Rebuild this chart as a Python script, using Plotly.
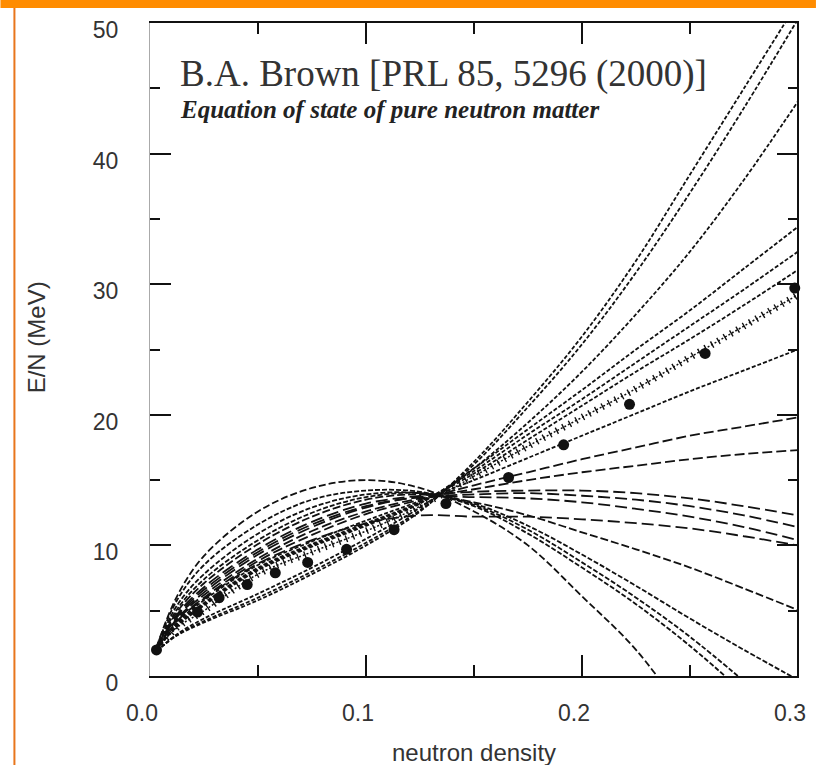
import plotly.graph_objects as go

# ---------------- data ----------------
density = [0.003, 0.0125, 0.025, 0.05, 0.075, 0.1, 0.125, 0.15, 0.175, 0.2, 0.225, 0.25, 0.275, 0.3]

eos_c01 = [1.9, 3.1, 4.1, 5.8, 7.8, 10.0, 12.6, 16.4, 21.0, 26.0, 31.8, 38.4, 45.0, 51.6]
eos_c02 = [1.9, 3.15, 4.2, 6.0, 8.0, 10.2, 12.7, 16.2, 20.6, 25.4, 30.9, 37.0, 43.5, 50.3]
eos_c03 = [1.9, 3.2, 4.4, 6.3, 8.3, 10.5, 12.9, 15.9, 19.4, 23.3, 27.7, 32.5, 38.0, 44.0]
eos_c04 = [2.0, 3.8, 5.4, 8.1, 9.9, 11.5, 13.2, 15.9, 18.9, 21.9, 25.0, 28.0, 31.2, 34.4]
eos_c05 = [2.0, 3.9, 5.5, 8.2, 10.0, 11.6, 13.3, 15.7, 18.5, 21.2, 24.0, 26.8, 29.6, 32.5]
eos_c06 = [2.0, 4.0, 5.6, 8.3, 10.1, 11.7, 13.3, 15.5, 18.1, 20.7, 23.3, 25.8, 28.4, 31.1]
eos_c08 = [2.0, 4.1, 5.8, 8.5, 10.3, 11.9, 13.4, 15.0, 16.7, 18.4, 20.1, 21.8, 23.4, 25.0]
eos_c09 = [2.0, 4.3, 6.0, 8.8, 10.8, 12.4, 13.5, 14.6, 15.6, 16.6, 17.5, 18.4, 19.1, 19.8]
eos_c10 = [2.0, 4.4, 6.2, 9.0, 11.1, 12.6, 13.6, 14.3, 15.0, 15.6, 16.1, 16.6, 17.0, 17.3]
eos_c11 = [2.1, 4.7, 6.8, 9.7, 11.8, 13.2, 13.8, 14.1, 14.2, 14.2, 14.0, 13.6, 13.0, 12.3]
eos_c12 = [2.1, 4.6, 6.6, 9.5, 11.6, 13.0, 13.7, 13.9, 14.0, 13.8, 13.5, 13.0, 12.3, 11.4]
eos_c13 = [2.0, 4.5, 6.4, 9.3, 11.4, 12.9, 13.7, 13.7, 13.6, 13.3, 12.8, 12.2, 11.4, 10.4]
eos_c14 = [2.0, 4.2, 5.9, 8.6, 10.4, 11.7, 12.3, 12.2, 12.2, 12.0, 11.7, 11.3, 10.7, 10.0]
eos_c15 = [2.1, 4.9, 7.1, 10.1, 12.2, 13.5, 13.9, 13.3, 12.3, 11.0, 9.7, 8.3, 6.7, 5.05]
eos_c16 = [2.1, 5.1, 7.4, 10.4, 12.5, 13.7, 14.0, 13.2, 11.5, 9.3, 6.9, 4.4, 2.0, -0.3]
eos_c17 = [2.1, 5.4, 7.8, 10.9, 12.9, 13.9, 14.0, 13.1, 11.2, 8.7, 6.0, 3.0, -0.4, None]
eos_c18 = [2.2, 5.8, 8.5, 11.6, 13.5, 14.2, 14.1, 13.0, 10.9, 8.3, 5.5, 2.3, -1.3, None]
eos_c19 = [2.2, 6.1, 9.2, 12.6, 14.4, 15.0, 14.4, 12.6, 10.0, 6.1, 2.0, -3.5, None, None]

# microscopic calculation drawn as a line with crosses
eos_star = [2.0, 3.7, 5.0, 7.8, 9.5, 11.1, 13.0, 15.3, 17.6, 19.8, 22.0, 24.4, 26.8, 29.2]

# filled circles
point_density = [0.003, 0.022, 0.032, 0.045, 0.058, 0.073, 0.091, 0.113, 0.137, 0.166, 0.1915, 0.222, 0.257, 0.2985]
point_energy = [2.0, 4.9, 6.0, 7.0, 7.9, 8.7, 9.7, 11.2, 13.2, 15.2, 17.7, 20.8, 24.7, 29.7]

x_tick_vals = [0.0, 0.1, 0.2, 0.3]
x_tick_text = ["0.0", "0.1", "0.2", "0.3"]
y_tick_vals = [0, 10, 20, 30, 40, 50]
y_tick_text = ["0", "10", "20", "30", "40", "50"]

title_text = "B.A. Brown [PRL 85, 5296 (2000)]"
subtitle_text = "Equation of state of pure neutron matter"
x_title = "neutron density"
y_title = "E/N (MeV)"

# ---------------- styles ----------------
curves = [eos_c01, eos_c02, eos_c03, eos_c04, eos_c05, eos_c06, eos_c08, eos_c09, eos_c10,
          eos_c11, eos_c12, eos_c13, eos_c14, eos_c15, eos_c16, eos_c17, eos_c18, eos_c19]
dashes = ["4px,2px", "4px,2px", "4px,2px", "4px,2px", "4px,2px", "4px,2px", "4px,2px",
          "10px,4px", "10px,4px", "12px,5px", "12px,5px", "12px,5px", "12px,5px",
          "8px,3px", "5px,2px", "5px,2px", "5px,2px", "7px,3px"]

W, H = 818, 765
L, R, T, B = 150, 18, 23, 89
PW, PH = W - L - R, H - T - B

def px_x(p):
    return (p - L) / PW

def px_y(p):
    return (H - B - p) / PH

fig = go.Figure()

for ys, d in zip(curves, dashes):
    fig.add_trace(go.Scatter(x=density, y=ys, mode="lines",
                             line=dict(color="#111", width=1.8, dash=d, shape="spline", smoothing=1.0),
                             hoverinfo="skip", showlegend=False))

# star curve: thin dotted line plus perpendicular crosses
fig.add_trace(go.Scatter(x=density, y=eos_star, mode="lines",
                         line=dict(color="#111", width=1.5, dash="2px,2px", shape="spline", smoothing=1.0),
                         hoverinfo="skip", showlegend=False))
fig.add_trace(go.Scatter(x=density, y=eos_star, mode="lines",
                         line=dict(color="#111", width=7, dash="1.4px,6px", shape="spline", smoothing=1.0),
                         hoverinfo="skip", showlegend=False))

fig.add_trace(go.Scatter(x=point_density, y=point_energy, mode="markers",
                         marker=dict(color="#111", size=11, symbol="circle"),
                         hoverinfo="skip", showlegend=False, cliponaxis=False))

tick_font = dict(family="Liberation Sans, Arial, sans-serif", size=23, color="#333")

fig.update_xaxes(range=[0, 0.3], tickvals=x_tick_vals, ticktext=x_tick_text,
                 ticks="inside", ticklen=21, tickwidth=1.5, tickcolor="#111",
                 showline=True, linecolor="#111", linewidth=2, mirror="ticks",
                 showgrid=False, zeroline=False, tickfont=tick_font,
                 ticklabelstandoff=15, ticklabelshift=-8,
                 minor=dict(tickvals=[0.05, 0.15, 0.25], ticks="inside", ticklen=11,
                            tickwidth=1.5, tickcolor="#111", showgrid=False))
fig.update_yaxes(range=[0, 50], tickvals=y_tick_vals, ticktext=y_tick_text,
                 ticks="inside", ticklen=21, tickwidth=1.5, tickcolor="#111",
                 showline=True, linecolor="#aaa", linewidth=1, mirror="ticks",
                 showgrid=False, zeroline=False, tickfont=tick_font,
                 ticklabelstandoff=26, ticklabelshift=7,
                 minor=dict(tickvals=[5, 15, 25, 35, 45], ticks="inside", ticklen=10,
                            tickwidth=1.5, tickcolor="#111", showgrid=False))

shapes = [
    # right frame edge
    dict(type="line", xref="paper", yref="paper", x0=1, x1=1, y0=0, y1=1,
         line=dict(color="#111", width=2)),
    # orange top bar
    dict(type="rect", xref="paper", yref="paper", x0=px_x(0), x1=px_x(W), y0=px_y(8), y1=px_y(0),
         fillcolor="#FF8C00", line=dict(width=0), layer="above"),
    # orange left rule
    dict(type="line", xref="paper", yref="paper", x0=px_x(14), x1=px_x(14), y0=px_y(H), y1=px_y(8),
         line=dict(color="#E8761C", width=2)),
]

annotations = [
    dict(text=title_text, xref="paper", yref="paper", x=px_x(178), y=px_y(74),
         xanchor="left", yanchor="middle", showarrow=False,
         font=dict(family="Liberation Serif, Times New Roman, serif", size=37, color="#333")),
    dict(text="<b><i>" + subtitle_text + "</i></b>", xref="paper", yref="paper",
         x=px_x(178), y=px_y(109), xanchor="left", yanchor="middle", showarrow=False,
         font=dict(family="Liberation Serif, Times New Roman, serif", size=25, color="#222")),
    dict(text=x_title, xref="paper", yref="paper", x=px_x(475), y=px_y(752),
         xanchor="center", yanchor="middle", showarrow=False,
         font=dict(family="Liberation Sans, Arial, sans-serif", size=24, color="#333")),
    dict(text=y_title, xref="paper", yref="paper", x=px_x(36), y=px_y(337),
         xanchor="center", yanchor="middle", showarrow=False, textangle=-90,
         font=dict(family="Liberation Sans, Arial, sans-serif", size=24, color="#333")),
]

fig.update_layout(width=W, height=H, autosize=False,
                  margin=dict(l=L, r=R, t=T, b=B, pad=0),
                  paper_bgcolor="white", plot_bgcolor="white",
                  shapes=shapes, annotations=annotations, showlegend=False)

fig.write_html("out.html")
